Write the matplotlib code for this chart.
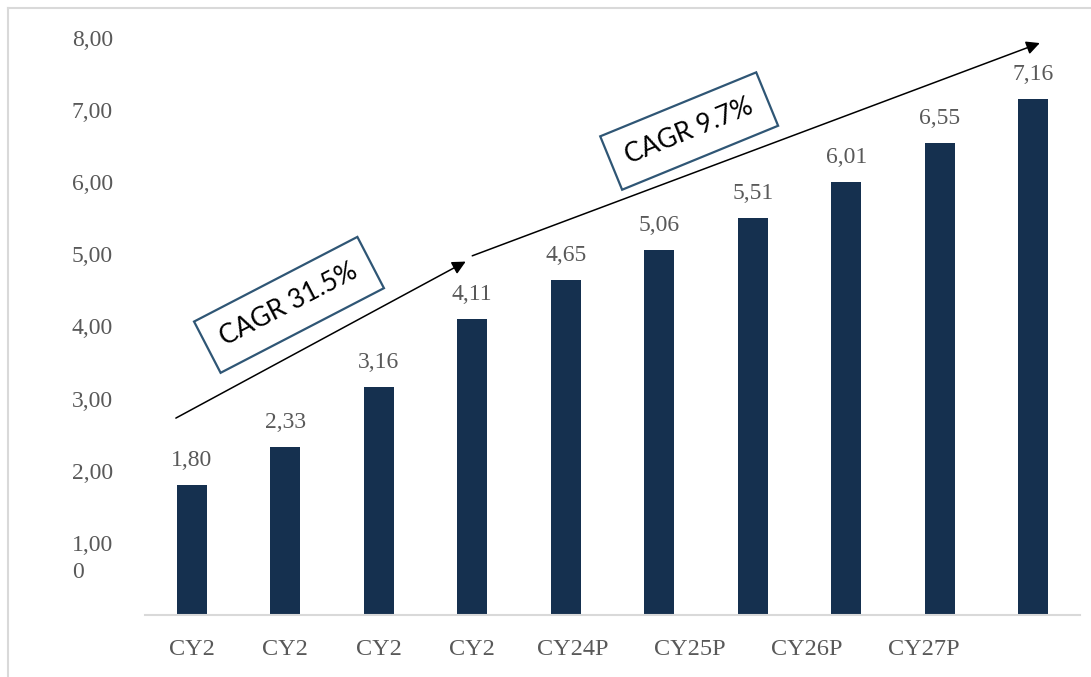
import matplotlib.pyplot as plt
from matplotlib.lines import Line2D

values = [1.80, 2.33, 3.16, 4.11, 4.65, 5.06, 5.51, 6.01, 6.55, 7.16]
tick_labels = ['CY2', 'CY2', 'CY2', 'CY2', 'CY24P', 'CY25P', 'CY26P', 'CY27P']
tick_pos = [0, 1, 2, 3, 4.08, 5.33, 6.58, 7.83]
y_ticks = [1, 2, 3, 4, 5, 6, 7, 8]

BAR = '#15304F'
GREY = '#595959'
BOX = '#2F5675'

plt.rcParams['font.family'] = ['Liberation Serif', 'DejaVu Serif']

fig = plt.figure(figsize=(10.91, 6.77), dpi=100)
ax = fig.add_axes([145 / 1091, 62 / 677, 935 / 1091, 577 / 677])

# outer frame of the chart area
fig.add_artist(Line2D([8 / 1091, 8 / 1091], [0, 669 / 677], color='#D9D9D9', lw=1.5))
fig.add_artist(Line2D([8 / 1091, 1], [669 / 677, 669 / 677], color='#D9D9D9', lw=1.5))

x = list(range(len(values)))
ax.bar(x, values, width=0.32, color=BAR, zorder=2)

for xi, v in zip(x, values):
    ax.annotate(f'{v:.2f}'.replace('.', ','), (xi, v), xytext=(0, 13.5),
                textcoords='offset points', ha='center', va='baseline',
                fontsize=17, color=GREY)

ax.set_xlim(-0.5, len(values) - 0.5)
ax.set_ylim(0, 8)
ax.set_yticks(y_ticks)
ax.set_yticklabels([f'{t:.2f}'.replace('.', ',') for t in y_ticks])
ax.set_xticks(tick_pos)
ax.set_xticklabels(tick_labels)
ax.tick_params(axis='y', length=0, pad=23, labelsize=17, labelcolor=GREY)
ax.tick_params(axis='x', length=0, pad=17, labelsize=17.5, labelcolor=GREY)

# wrapped remainder of the lowest tick label
ax.annotate('0', (0, 1), xycoords=('axes fraction', 'data'), xytext=(-52.5, -21.6),
            textcoords='offset points', ha='left', va='center',
            fontsize=17, color=GREY)

for s in ['left', 'right', 'top']:
    ax.spines[s].set_visible(False)
ax.spines['bottom'].set_color('#D9D9D9')
ax.spines['bottom'].set_linewidth(1.5)

# growth arrows
ax.annotate('', xy=(2.93, 4.90), xytext=(-0.17, 2.73),
            arrowprops=dict(arrowstyle='-|>', color='black', lw=1.1,
                            mutation_scale=20, shrinkA=0, shrinkB=0),
            annotation_clip=False)
ax.annotate('', xy=(9.07, 7.93), xytext=(3.00, 4.98),
            arrowprops=dict(arrowstyle='-|>', color='black', lw=1.1,
                            mutation_scale=20, shrinkA=0, shrinkB=0),
            annotation_clip=False)

box = dict(boxstyle='square,pad=0.62', fc='white', ec=BOX, lw=1.6)
ax.text(1.04, 4.30, 'CAGR 31.5%', rotation=27.4, rotation_mode='anchor',
        ha='center', va='center', fontsize=19, family='Lato', bbox=box)
ax.text(5.32, 6.71, 'CAGR 9.7%', rotation=22.3, rotation_mode='anchor',
        ha='center', va='center', fontsize=19, family='Lato', bbox=box)

fig.savefig('out.png', dpi=100)
